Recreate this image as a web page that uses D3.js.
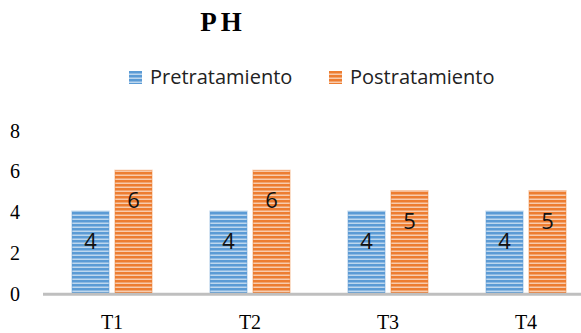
<!DOCTYPE html>
<html>
<head>
<meta charset="utf-8">
<script src="https://cdn.jsdelivr.net/npm/d3@7"></script>
<style>
  body { margin: 0; background: #fff; }
</style>
</head>
<body>
<div id="container"></div>
<script>
var width = 581,
    height = 333;

var categories = ['T1', 'T2', 'T3', 'T4'];
var seriesNames = ['Pretratamiento', 'Postratamiento'];
var pretratamiento = [4, 4, 4, 4];
var postratamiento = [6, 6, 5, 5];
var yTicks = [0, 2, 4, 6, 8];
var colors = ['#5b9bd5', '#ed7d31'];

var svg = d3.select('#container')
    .append('svg')
    .attr('width', width)
    .attr('height', height);

// striped fills
var defs = svg.append('defs');
colors.forEach(function(c, i) {
    var p = defs.append('pattern')
        .attr('id', 'stripe' + i)
        .attr('patternUnits', 'userSpaceOnUse')
        .attr('width', 8)
        .attr('height', 4);
    p.append('rect').attr('width', 8).attr('height', 4).attr('fill', c);
    p.append('rect').attr('y', 2.6).attr('width', 8).attr('height', 1.2)
        .attr('fill', '#fff').attr('opacity', 0.75);
});

var scaleX = d3.scaleBand()
    .domain(categories)
    .range([43, 595]);
var scaleY = d3.scaleLinear()
    .domain([0, 8])
    .range([293, 129.5]);

var barW = 37, gap = 6;
var data = categories.map(function(c, i) {
    return [pretratamiento[i], postratamiento[i]];
});

// title
svg.append('text')
    .attr('x', 223)
    .attr('y', 31)
    .attr('text-anchor', 'middle')
    .attr('font-family', 'Liberation Serif, Times New Roman, serif')
    .attr('font-weight', 'bold')
    .attr('font-size', 27)
    .attr('letter-spacing', 4)
    .text('PH');

// legend
var legendX = [129, 329];
seriesNames.forEach(function(name, i) {
    var lg = svg.append('g').attr('transform', 'translate(' + legendX[i] + ',71)');
    lg.append('rect')
        .attr('width', 13).attr('height', 13)
        .attr('fill', 'url(#stripe' + i + ')');
    lg.append('text')
        .attr('x', 21).attr('y', 13)
        .attr('font-family', 'Open Sans, sans-serif')
        .attr('font-size', 20)
        .attr('fill', '#222')
        .text(name);
});

// y tick labels
svg.selectAll('.ytick')
    .data(yTicks)
    .enter().append('text')
    .attr('class', 'ytick')
    .attr('x', 15)
    .attr('y', function(d) { return scaleY(d) + 8; })
    .attr('text-anchor', 'middle')
    .attr('font-family', 'Liberation Serif, Times New Roman, serif')
    .attr('font-size', 20)
    .text(function(d) { return d; });

// bars
var groups = svg.selectAll('.grp')
    .data(data)
    .enter().append('g')
    .attr('class', 'grp')
    .attr('transform', function(d, i) {
        var c = scaleX(categories[i]) + scaleX.bandwidth() / 2;
        return 'translate(' + c + ',0)';
    });

groups.selectAll('rect')
    .data(function(d) { return d; })
    .enter().append('rect')
    .attr('x', function(d, j) { return j === 0 ? -barW - gap / 2 : gap / 2; })
    .attr('y', function(d) { return scaleY(d); })
    .attr('width', barW)
    .attr('height', function(d) { return scaleY(0) - scaleY(d); })
    .attr('fill', function(d, j) { return 'url(#stripe' + j + ')'; })
    .attr('stroke', function(d, j) { return colors[j]; })
    .attr('stroke-opacity', 0.35)
    .attr('stroke-width', 1.5);

groups.selectAll('.lbl')
    .data(function(d) { return d; })
    .enter().append('text')
    .attr('class', 'lbl')
    .attr('x', function(d, j) { return j === 0 ? -barW / 2 - gap / 2 : barW / 2 + gap / 2; })
    .attr('y', function(d) { return scaleY(d) + 38; })
    .attr('text-anchor', 'middle')
    .attr('font-family', 'Open Sans, sans-serif')
    .attr('font-size', 22)
    .attr('fill', '#111')
    .text(function(d) { return d; });

// baseline
svg.append('line')
    .attr('x1', 43).attr('x2', 581)
    .attr('y1', scaleY(0) + 1.3).attr('y2', scaleY(0) + 1.3)
    .attr('stroke', '#bfbfbf')
    .attr('stroke-width', 3);

// category labels
svg.selectAll('.xlab')
    .data(categories)
    .enter().append('text')
    .attr('class', 'xlab')
    .attr('x', function(d) { return scaleX(d) + scaleX.bandwidth() / 2; })
    .attr('y', 329)
    .attr('text-anchor', 'middle')
    .attr('font-family', 'Liberation Serif, Times New Roman, serif')
    .attr('font-size', 20)
    .text(function(d) { return d; });
</script>
</body>
</html>
